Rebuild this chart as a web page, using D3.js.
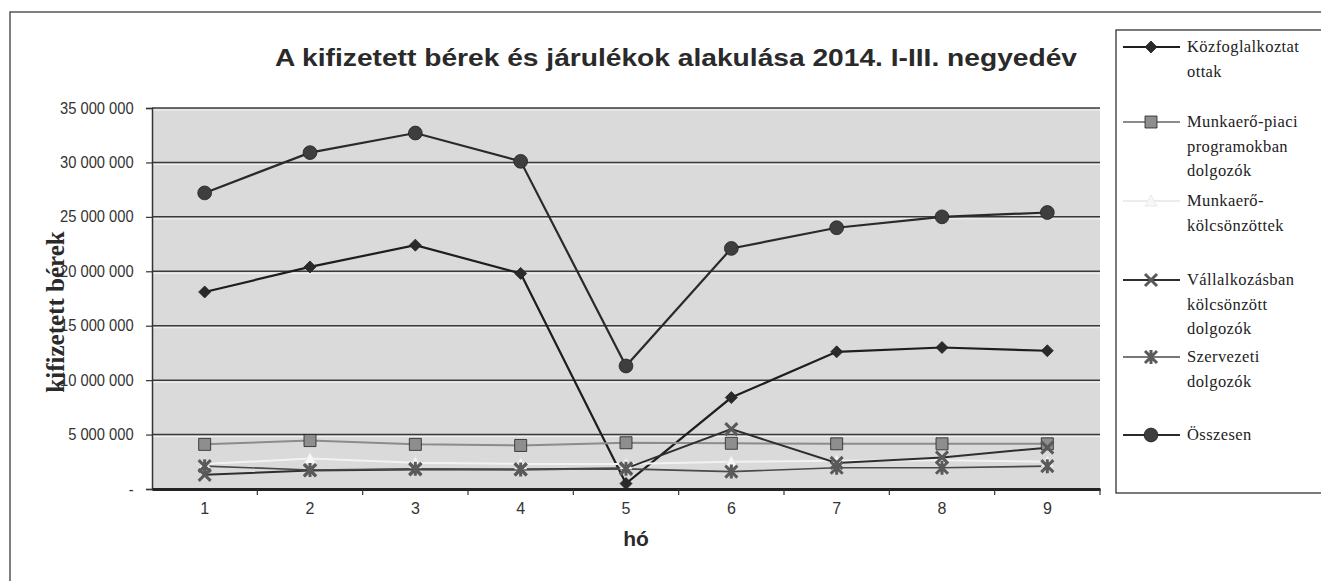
<!DOCTYPE html>
<html>
<head>
<meta charset="utf-8">
<script src="https://cdn.jsdelivr.net/npm/d3@7"></script>
<style>
  body { margin: 0; background: #fff; }
  svg { display: block; }
</style>
</head>
<body>
<svg id="chart" width="1321" height="581"></svg>
<script>
// months
const months = [1, 2, 3, 4, 5, 6, 7, 8, 9];

// series values (HUF)
const kozfoglalkoztatottak = [18.1e6, 20.4e6, 22.4e6, 19.8e6, 0.5e6, 8.4e6, 12.6e6, 13.0e6, 12.7e6];
const munkaeroPiaci        = [4.1e6, 4.45e6, 4.1e6, 4.0e6, 4.25e6, 4.2e6, 4.15e6, 4.15e6, 4.15e6];
const munkaeroKolcsonzott  = [2.3e6, 2.8e6, 2.4e6, 2.3e6, 2.3e6, 2.5e6, 2.6e6, 2.65e6, 2.5e6];
const vallalkozasban       = [1.3e6, 1.7e6, 1.8e6, 1.8e6, 1.9e6, 5.5e6, 2.4e6, 2.9e6, 3.8e6];
const szervezeti           = [2.1e6, 1.75e6, 1.85e6, 1.8e6, 1.85e6, 1.6e6, 1.95e6, 1.95e6, 2.1e6];
const osszesen             = [27.2e6, 30.9e6, 32.7e6, 30.1e6, 11.3e6, 22.1e6, 24.0e6, 25.0e6, 25.4e6];

const yTicks = [0, 5e6, 10e6, 15e6, 20e6, 25e6, 30e6, 35e6];
const yTickLabels = ["-", "5 000 000", "10 000 000", "15 000 000", "20 000 000", "25 000 000", "30 000 000", "35 000 000"];

const legendLabels = [
  ["Közfoglalkoztat", "ottak"],
  ["Munkaerő-piaci", "programokban", "dolgozók"],
  ["Munkaerő-", "kölcsönzöttek"],
  ["Vállalkozásban", "kölcsönzött", "dolgozók"],
  ["Szervezeti", "dolgozók"],
  ["Összesen"]
];

const series = [
  {values: kozfoglalkoztatottak, line: "#1e1e1e", width: 2.2, marker: "diamond", fill: "#2a2a2a"},
  {values: munkaeroPiaci, line: "#8c8c8c", width: 2, marker: "square", fill: "#8e8e8e"},
  {values: munkaeroKolcsonzott, line: "#f2f2f2", width: 2, marker: "triangle", fill: "#f7f7f7"},
  {values: vallalkozasban, line: "#2e2e2e", width: 2, marker: "x", fill: "#5a5a5a"},
  {values: szervezeti, line: "#4a4a4a", width: 1.6, marker: "star", fill: "#5a5a5a"},
  {values: osszesen, line: "#2a2a2a", width: 2.2, marker: "circle", fill: "#3e3e3e"}
];

const svg = d3.select("#chart");
const plotL = 152, plotR = 1100, plotT = 108, plotB = 489;

const x = d3.scaleBand(months, [plotL, plotR]);
const y = d3.scaleLinear([0, 35e6], [plotB, plotT]);

// outer frame (partly cut off in the scan)
svg.append("path")
  .attr("d", "M10,581 V12 H1321")
  .attr("fill", "none").attr("stroke", "#555").attr("stroke-width", 1.5);

// title
svg.append("text")
  .attr("x", 676).attr("y", 66)
  .attr("text-anchor", "middle")
  .attr("font-family", "Liberation Sans, Arial, sans-serif")
  .attr("font-weight", "bold").attr("font-size", 24)
  .attr("fill", "#2a2a2a")
  .attr("textLength", 802)
  .attr("lengthAdjust", "spacingAndGlyphs")
  .text("A kifizetett bérek és járulékok alakulása 2014. I-III.  negyedév");

// plot area
svg.append("rect")
  .attr("x", plotL).attr("y", plotT)
  .attr("width", plotR - plotL).attr("height", plotB - plotT)
  .attr("fill", "#dadada");

// gridlines
svg.append("g")
  .selectAll("line")
  .data(yTicks.filter(d => d > 0))
  .join("line")
  .attr("x1", plotL).attr("x2", plotR)
  .attr("y1", d => y(d)).attr("y2", d => y(d))
  .attr("stroke", "#3a3a3a").attr("stroke-width", 1.5);
svg.append("g")
  .selectAll("line")
  .data(yTicks.filter(d => d > 0))
  .join("line")
  .attr("x1", plotL).attr("x2", plotR)
  .attr("y1", d => y(d) + 2).attr("y2", d => y(d) + 2)
  .attr("stroke", "#f4f4f4").attr("stroke-width", 1);

// y axis
const yAxis = d3.axisLeft(y)
  .tickValues(yTicks)
  .tickFormat((d, i) => yTickLabels[i])
  .tickSize(6).tickPadding(14);
const gy = svg.append("g").attr("transform", `translate(${plotL},0)`).call(yAxis);
gy.select(".domain").attr("stroke", "#333").attr("stroke-width", 1.5);
gy.selectAll(".tick line").attr("stroke", "#333").attr("stroke-width", 1.2);
gy.selectAll(".tick text")
  .attr("font-family", "Liberation Sans, Arial, sans-serif")
  .attr("font-size", 16).attr("fill", "#333")
  .attr("transform", "scale(0.92,1)");

// x axis: ticks on band boundaries, labels at band centres
const xAxis = d3.axisBottom(x).tickSize(0).tickPadding(14);
const gx = svg.append("g").attr("transform", `translate(0,${plotB})`).call(xAxis);
gx.select(".domain").attr("stroke", "#222").attr("stroke-width", 3);
gx.selectAll(".tick text")
  .attr("font-family", "Liberation Sans, Arial, sans-serif")
  .attr("font-size", 16).attr("fill", "#333");
svg.append("g")
  .selectAll("line")
  .data(months.slice(1).concat(["end"]))
  .join("line")
  .attr("x1", d => d === "end" ? plotR : x(d))
  .attr("x2", d => d === "end" ? plotR : x(d))
  .attr("y1", plotB).attr("y2", plotB + 6)
  .attr("stroke", "#333").attr("stroke-width", 1.2);

// axis titles
svg.append("text")
  .attr("x", 636).attr("y", 546)
  .attr("text-anchor", "middle")
  .attr("font-family", "Liberation Sans, Arial, sans-serif")
  .attr("font-weight", "bold").attr("font-size", 21)
  .attr("fill", "#2a2a2a")
  .text("hó");
svg.append("text")
  .attr("transform", "translate(64,312) rotate(-90)")
  .attr("text-anchor", "middle")
  .attr("font-family", "Liberation Serif, Times New Roman, serif")
  .attr("font-weight", "bold").attr("font-size", 25)
  .attr("fill", "#2a2a2a")
  .text("kifizetett bérek");

// markers
function markerPath(type) {
  switch (type) {
    case "diamond": return "M0,-6L6,0L0,6L-6,0Z";
    case "square": return "M-6,-6H6V6H-6Z";
    case "triangle": return "M0,-6L6,5H-6Z";
    case "x": return "M-6,-6L6,6M6,-6L-6,6";
    case "star": return "M-6,-6L6,6M6,-6L-6,6M0,-7V7";
    case "circle": return d3.symbol(d3.symbolCircle, 150)();
  }
}
function drawMarker(g, s, cx, cy) {
  const stroked = s.marker === "x" || s.marker === "star";
  g.append("path")
    .attr("transform", `translate(${cx},${cy})`)
    .attr("d", markerPath(s.marker))
    .attr("fill", stroked ? "none" : s.fill)
    .attr("stroke", stroked ? s.fill : (s.marker === "triangle" ? "#e6e6e6" : "#222"))
    .attr("stroke-width", stroked ? 3 : 0.8);
}

const line = d3.line()
  .x((d, i) => x(months[i]) + x.bandwidth() / 2)
  .y(d => y(d));

const plot = svg.append("g");
series.forEach(s => {
  plot.append("path")
    .attr("d", line(s.values))
    .attr("fill", "none")
    .attr("stroke", s.line)
    .attr("stroke-width", s.width);
});
series.forEach(s => {
  const g = plot.append("g");
  s.values.forEach((v, i) => drawMarker(g, s, x(months[i]) + x.bandwidth() / 2, y(v)));
});

// legend
svg.append("rect")
  .attr("x", 1116).attr("y", 30)
  .attr("width", 220).attr("height", 463)
  .attr("fill", "#fff").attr("stroke", "#333").attr("stroke-width", 1.3);

const legendRows = [47, 122, 201, 280, 357, 435];
const lg = svg.append("g");
series.forEach((s, k) => {
  const yy = legendRows[k];
  lg.append("line")
    .attr("x1", 1123).attr("x2", 1180)
    .attr("y1", yy).attr("y2", yy)
    .attr("stroke", k === 2 ? "#ececec" : s.line)
    .attr("stroke-width", s.width);
  drawMarker(lg, s, 1151, yy);
  legendLabels[k].forEach((t, j) => {
    lg.append("text")
      .attr("x", 1187).attr("y", yy + 5 + j * 24.5)
      .attr("font-family", "Liberation Serif, Times New Roman, serif")
      .attr("font-size", 16.5).attr("fill", "#222")
      .attr("letter-spacing", 0.4)
      .text(t);
  });
});
</script>
</body>
</html>
